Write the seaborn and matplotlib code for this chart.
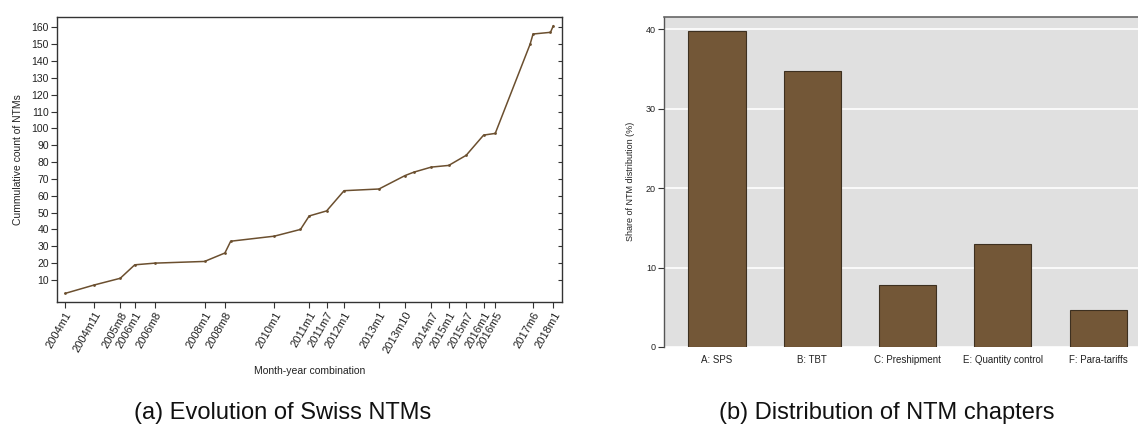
import matplotlib
matplotlib.use("Agg")
import matplotlib.pyplot as plt
import matplotlib.lines as mlines
import seaborn as sns
import pandas as pd

sns.set_theme(style="white")
plt.rcParams["font.family"] = ["Liberation Sans", "DejaVu Sans"]

# Cumulative count of Swiss NTMs by month-year
periods = ["2004m1", "2004m11", "2005m8", "2006m1", "2006m8", "2008m1", "2008m8",
           "2008m10", "2010m1", "2010m10", "2011m1", "2011m7", "2012m1", "2013m1",
           "2013m10", "2014m1", "2014m7", "2015m1", "2015m7", "2016m1", "2016m5",
           "2017m5", "2017m6", "2017m12", "2018m1"]
counts = [2, 7, 11, 19, 20, 21, 26, 33, 36, 40, 48, 51, 63, 64,
          72, 74, 77, 78, 84, 96, 97, 150, 156, 157, 161]
tick_periods = ["2004m1", "2004m11", "2005m8", "2006m1", "2006m8", "2008m1", "2008m8",
                "2010m1", "2011m1", "2011m7", "2012m1", "2013m1", "2013m10", "2014m7",
                "2015m1", "2015m7", "2016m1", "2016m5", "2017m6", "2018m1"]

# Share of NTM chapters
chapters = ["A: SPS", "B: TBT", "C: Preshipment", "E: Quantity control", "F: Para-tariffs"]
shares = [39.8, 34.7, 7.8, 13.0, 4.6]


def month_index(p):
    y, m = p.split("m")
    return (int(y) - 2004) * 12 + int(m) - 1


W, H = 1138, 426
fig = plt.figure(figsize=(W / 100, H / 100), dpi=100)


def px_axes(left, top, right, bottom):
    return fig.add_axes([left / W, 1 - bottom / H, (right - left) / W, (bottom - top) / H])


line_col = "#6b4f2f"
txt_col = "#222222"

# ---- left panel: evolution over time
ax1 = px_axes(57.3, 17, 561.7, 301.7)
df_line = pd.DataFrame({"t": [month_index(p) for p in periods], "n": counts})
sns.lineplot(data=df_line, x="t", y="n", ax=ax1, color=line_col, linewidth=1.1,
             marker="o", markersize=2, markeredgewidth=0, estimator=None)
ax1.set_xlim(-2.65, 170.86)
ax1.set_ylim(-2.9, 166.1)
ax1.set_xticks([month_index(p) for p in tick_periods])
ax1.set_xticklabels(tick_periods, rotation=60, ha="right", rotation_mode="anchor",
                    fontsize=8, color=txt_col)
ax1.set_yticks(range(10, 161, 10))
ax1.set_yticklabels([str(v) for v in range(10, 161, 10)], fontsize=7.5, color=txt_col)
ax1.tick_params(axis="both", direction="out", length=4, width=0.8, color="#333333",
                pad=2, top=True, right=True, bottom=True, left=True)
# white notches across the top frame, short inward marks on the right frame
for t in ax1.xaxis.get_major_ticks():
    t.tick2line.set_marker("|")
    t.tick2line.set_markeredgecolor("white")
    t.tick2line.set_markeredgewidth(1.2)
    t.tick2line.set_markersize(3)
for t in ax1.yaxis.get_major_ticks():
    t.tick2line.set_marker(mlines.TICKLEFT)
    t.tick2line.set_markersize(3)
for s in ax1.spines.values():
    s.set_color("#333333")
    s.set_linewidth(1.0)
ax1.set_xlabel("Month-year combination", fontsize=7.5, color=txt_col, labelpad=8)
ax1.set_ylabel("Cummulative count of NTMs", fontsize=7.5, color=txt_col, labelpad=6)

# ---- right panel: chapter distribution
ax2 = px_axes(664.3, 16.7, 1138, 347)
ax2.set_facecolor("#e0e0e0")
df_bar = pd.DataFrame({"chapter": chapters, "share": shares})
sns.barplot(data=df_bar, x="chapter", y="share", ax=ax2, color="#735737",
            saturation=1, width=0.6, edgecolor="#3d3020", linewidth=0.8, zorder=3)
ax2.set_xlim(-0.553, 4.418)
ax2.set_ylim(0, 41.6)
ax2.set_yticks([0, 10, 20, 30, 40])
ax2.set_yticklabels(["0", "10", "20", "30", "40"], fontsize=6.5, color=txt_col)
ax2.tick_params(axis="y", direction="out", length=4, width=0.8, color="#333333",
                pad=2, left=True)
ax2.tick_params(axis="x", length=0, pad=6, labelsize=7, labelcolor=txt_col)
ax2.grid(axis="y", color="white", linewidth=1.2, zorder=0)
ax2.set_axisbelow(True)
ax2.spines["bottom"].set_visible(False)
ax2.spines["right"].set_visible(False)
ax2.spines["top"].set_color("#666666")
ax2.spines["left"].set_color("#555555")
ax2.spines["top"].set_linewidth(1.2)
ax2.spines["left"].set_linewidth(1.0)
ax2.set_xlabel("")
ax2.set_ylabel("Share of NTM distribution (%)", fontsize=6.5, color=txt_col, labelpad=8)

# ---- captions
fig.text(283 / W, 1 - 413 / H, "(a) Evolution of Swiss NTMs", ha="center", va="center",
         fontsize=17, color="#111111")
fig.text(887 / W, 1 - 413 / H, "(b) Distribution of NTM chapters", ha="center", va="center",
         fontsize=17, color="#111111")

fig.savefig("out.png", dpi=100, facecolor="white")
